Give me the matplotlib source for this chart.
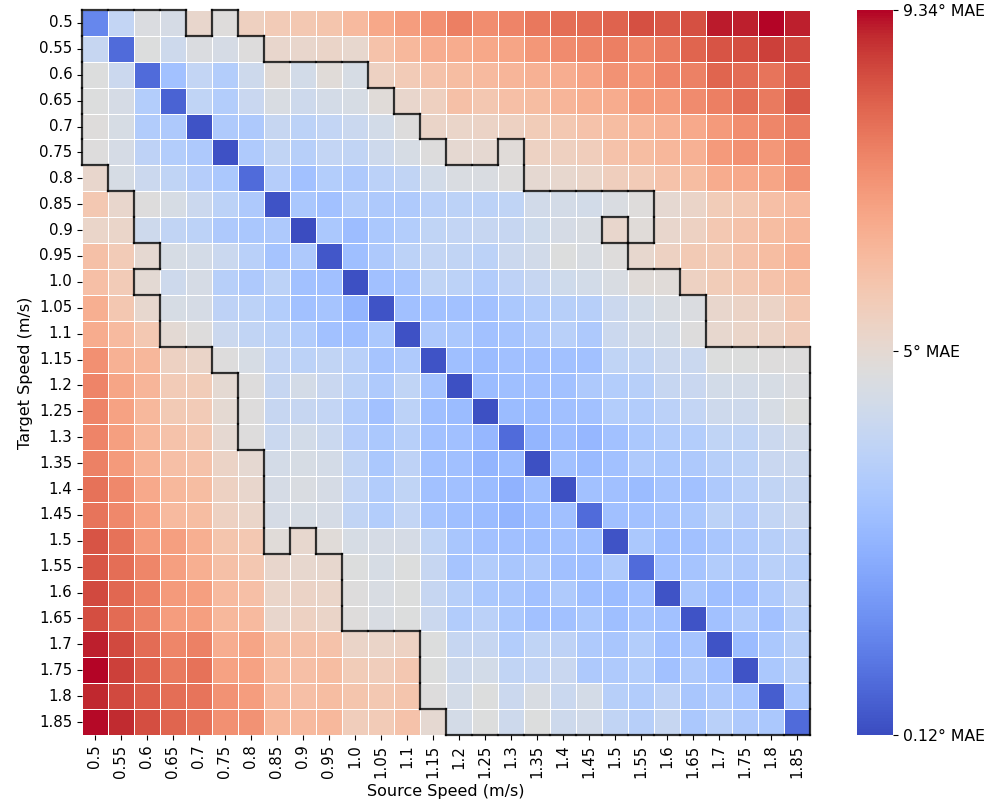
import matplotlib
matplotlib.use("Agg")
import matplotlib.pyplot as plt
import numpy as np
import seaborn as sns
from matplotlib.collections import LineCollection

speeds = [0.5, 0.55, 0.6, 0.65, 0.7, 0.75, 0.8, 0.85, 0.9, 0.95, 1.0, 1.05, 1.1, 1.15,
          1.2, 1.25, 1.3, 1.35, 1.4, 1.45, 1.5, 1.55, 1.6, 1.65, 1.7, 1.75, 1.8, 1.85]
tick_labels = [str(s) for s in speeds]

threshold = 5.0
vmin, vmax = 0.12, 9.34

# rows = target speed, columns = source speed (MAE in degrees)
r00 = [1.4, 3.9, 4.65, 4.45, 5.15, 4.8, 5.45, 5.65, 5.75, 5.85, 6.2, 6.7, 6.95, 7.25, 7.6, 7.3, 7.5, 7.75, 7.9, 8.0, 8.15, 8.45, 8.3, 8.45, 9.15, 9.1, 9.34, 9.1]
r01 = [4.0, 0.8, 4.7, 4.2, 4.65, 4.45, 4.75, 5.15, 5.15, 5.25, 5.1, 5.95, 6.25, 6.55, 6.6, 6.7, 6.75, 7.1, 7.35, 7.45, 7.6, 7.45, 7.65, 8.1, 8.4, 8.5, 8.7, 8.55]
r02 = [4.7, 4.15, 0.8, 3.0, 3.9, 3.45, 4.2, 4.9, 4.35, 4.85, 4.5, 5.4, 5.65, 5.95, 6.1, 6.2, 6.35, 6.45, 6.55, 6.8, 7.2, 7.15, 7.5, 7.55, 8.1, 7.95, 7.8, 8.25]
r03 = [4.7, 4.45, 3.45, 0.6, 3.8, 3.45, 4.05, 4.55, 4.2, 4.4, 4.5, 4.85, 5.15, 5.45, 6.0, 5.8, 6.05, 6.1, 6.35, 6.5, 6.6, 7.0, 7.0, 7.35, 7.6, 7.9, 7.7, 8.3]
r04 = [4.8, 4.5, 3.4, 3.3, 0.3, 3.35, 3.3, 4.0, 3.7, 3.9, 4.1, 4.35, 4.75, 5.25, 5.2, 5.3, 5.4, 5.6, 5.75, 5.95, 6.1, 6.3, 6.45, 6.65, 7.0, 7.3, 7.45, 7.65]
r05 = [4.75, 4.45, 3.75, 3.45, 3.3, 0.25, 3.35, 3.85, 3.55, 3.9, 3.85, 4.2, 4.5, 4.75, 5.05, 5.05, 4.85, 5.35, 5.45, 5.55, 5.95, 6.1, 6.3, 6.45, 7.0, 7.25, 7.1, 7.45]
r06 = [5.15, 4.5, 4.15, 3.8, 3.5, 3.25, 0.8, 3.5, 3.0, 3.45, 3.3, 3.65, 3.85, 4.35, 4.6, 4.6, 4.75, 5.02, 5.1, 5.2, 5.5, 5.65, 5.95, 6.1, 6.6, 6.65, 6.75, 7.2]
r07 = [5.75, 5.15, 4.75, 4.5, 4.15, 3.7, 3.3, 0.3, 3.2, 3.0, 3.4, 3.3, 3.35, 3.6, 3.7, 3.7, 3.8, 4.3, 4.4, 4.35, 4.6, 4.8, 5.05, 5.25, 5.6, 5.75, 6.05, 6.2]
r08 = [5.2, 5.2, 4.2, 3.85, 3.7, 3.3, 3.2, 3.3, 0.12, 3.25, 2.85, 3.25, 3.45, 3.8, 3.9, 4.0, 4.0, 4.25, 4.45, 4.55, 5.15, 4.85, 5.15, 5.4, 5.75, 5.95, 6.1, 6.3]
r09 = [6.0, 5.65, 5.05, 4.5, 4.4, 4.1, 3.6, 3.1, 3.3, 0.35, 2.9, 3.3, 3.7, 3.9, 3.85, 3.7, 4.15, 4.3, 4.7, 4.55, 4.8, 5.1, 5.4, 5.7, 5.7, 5.95, 6.1, 6.4]
r10 = [6.05, 5.65, 4.95, 4.2, 4.45, 3.55, 3.3, 3.7, 3.0, 2.95, 0.2, 2.95, 3.1, 3.8, 3.7, 3.4, 3.75, 4.0, 4.25, 4.35, 4.55, 4.85, 4.85, 5.4, 5.6, 5.75, 5.95, 6.1]
r11 = [6.5, 5.8, 5.1, 4.5, 4.45, 3.75, 3.7, 3.45, 3.0, 3.1, 2.6, 0.3, 2.95, 3.0, 3.0, 3.0, 3.25, 3.4, 3.55, 3.55, 4.15, 4.35, 4.55, 4.65, 5.15, 5.3, 5.3, 5.75]
r12 = [6.6, 6.2, 5.75, 4.95, 4.75, 4.15, 3.85, 3.7, 3.4, 3.0, 2.9, 3.25, 0.25, 3.3, 3.25, 3.0, 3.1, 3.3, 3.6, 3.3, 4.15, 4.3, 4.4, 4.75, 5.1, 5.2, 5.3, 5.55]
r13 = [7.25, 6.45, 6.3, 5.4, 5.25, 4.75, 4.5, 3.9, 3.7, 3.85, 3.6, 3.1, 3.35, 0.3, 2.9, 2.8, 2.95, 2.95, 3.0, 3.0, 3.8, 3.85, 4.15, 4.1, 4.7, 4.7, 4.75, 4.75]
r14 = [7.5, 6.75, 6.35, 5.65, 5.6, 5.0, 4.75, 4.0, 4.4, 4.05, 3.7, 3.35, 3.8, 3.05, 0.2, 2.8, 2.9, 2.95, 3.0, 3.3, 3.45, 3.55, 4.0, 4.05, 4.35, 4.4, 4.5, 4.65]
r15 = [7.5, 6.85, 6.25, 5.7, 5.65, 5.0, 4.75, 4.0, 4.0, 3.9, 3.4, 3.0, 3.7, 2.9, 2.8, 0.2, 2.8, 2.8, 2.95, 3.0, 3.45, 3.4, 3.65, 3.9, 4.2, 4.2, 4.5, 4.7]
r16 = [7.5, 6.9, 6.3, 5.95, 5.8, 5.05, 4.75, 4.1, 4.35, 4.1, 3.5, 3.25, 3.55, 3.0, 2.95, 2.65, 0.8, 2.6, 2.85, 2.65, 3.0, 3.25, 3.4, 3.45, 3.8, 3.8, 4.15, 4.3]
r17 = [7.55, 7.0, 6.4, 6.05, 5.95, 5.3, 5.05, 4.4, 4.5, 4.4, 3.85, 3.25, 3.75, 3.0, 2.95, 2.6, 2.75, 0.2, 3.0, 2.75, 3.0, 3.35, 3.25, 3.3, 3.55, 3.7, 4.05, 4.15]
r18 = [7.85, 7.4, 6.65, 6.25, 6.1, 5.4, 5.15, 4.45, 4.6, 4.45, 3.9, 3.4, 3.8, 3.0, 2.95, 2.8, 2.5, 2.9, 0.2, 3.0, 2.95, 2.8, 3.1, 3.0, 3.3, 3.6, 3.85, 4.0]
r19 = [7.8, 7.4, 6.85, 6.2, 6.1, 5.4, 5.2, 4.45, 4.5, 4.45, 3.85, 3.45, 3.9, 3.1, 2.9, 2.8, 2.6, 2.8, 2.95, 0.8, 2.95, 3.0, 3.1, 3.25, 3.7, 3.5, 3.9, 4.05]
r20 = [8.4, 7.85, 7.0, 6.9, 6.5, 5.85, 5.75, 4.85, 5.1, 4.85, 4.5, 4.45, 4.45, 3.8, 3.15, 3.0, 2.95, 2.9, 3.0, 2.9, 0.3, 3.25, 2.9, 3.0, 3.15, 3.35, 3.55, 3.75]
r21 = [8.35, 7.9, 7.45, 6.9, 6.5, 6.0, 5.8, 5.15, 5.1, 5.1, 4.7, 4.5, 4.7, 4.0, 3.1, 3.4, 3.15, 3.3, 2.95, 2.9, 3.35, 0.8, 2.95, 3.1, 3.4, 3.3, 3.6, 3.55]
r22 = [8.55, 8.05, 7.6, 7.0, 6.9, 6.2, 6.05, 5.2, 5.3, 5.2, 4.75, 4.55, 4.7, 4.0, 3.55, 3.25, 3.15, 3.0, 3.35, 2.9, 2.8, 3.0, 0.3, 3.15, 2.9, 2.95, 3.35, 3.75]
r23 = [8.5, 8.0, 7.55, 6.95, 6.9, 6.25, 6.2, 5.15, 5.4, 5.25, 4.8, 4.55, 4.7, 4.15, 3.4, 3.65, 3.25, 3.0, 3.0, 3.25, 2.9, 3.1, 3.0, 0.3, 3.0, 3.35, 3.0, 3.55]
r24 = [9.1, 8.55, 7.95, 7.45, 7.55, 6.55, 6.75, 6.1, 6.0, 5.95, 5.25, 5.25, 5.35, 4.7, 4.0, 4.0, 3.45, 3.8, 3.75, 3.35, 3.15, 3.45, 3.0, 3.1, 0.3, 2.8, 3.25, 3.55]
r25 = [9.34, 8.7, 8.2, 7.7, 7.85, 6.85, 6.85, 6.15, 6.05, 6.1, 5.6, 5.55, 5.8, 4.7, 4.2, 4.35, 3.85, 3.9, 4.05, 3.3, 3.35, 3.45, 3.0, 3.3, 3.0, 0.3, 3.25, 3.55]
r26 = [9.05, 8.55, 8.25, 7.9, 7.8, 7.2, 6.95, 6.2, 6.05, 6.1, 5.85, 5.75, 5.85, 4.75, 4.4, 4.7, 4.15, 4.55, 4.1, 4.4, 3.55, 3.4, 3.75, 3.15, 3.3, 3.1, 0.5, 3.15]
r27 = [9.3, 9.0, 8.5, 8.1, 7.85, 7.25, 7.2, 6.25, 6.2, 6.25, 5.55, 5.65, 5.95, 5.05, 4.4, 4.7, 4.2, 4.7, 4.2, 4.3, 3.85, 3.55, 4.0, 3.25, 3.6, 3.3, 3.25, 0.8]

data = np.array([r00, r01, r02, r03, r04, r05, r06, r07, r08, r09, r10, r11, r12, r13,
                 r14, r15, r16, r17, r18, r19, r20, r21, r22, r23, r24, r25, r26, r27])

fig = plt.figure(figsize=(9.92, 8.08), dpi=100)
ax = fig.add_axes([82/992, 1 - 735/808, 728/992, 725/808])
cax = fig.add_axes([857/992, 1 - 735/808, 36/992, 725/808])

sns.heatmap(data, ax=ax, cbar_ax=cax, cmap="coolwarm", vmin=vmin, vmax=vmax,
            linewidths=0.5, linecolor="white",
            xticklabels=tick_labels, yticklabels=tick_labels)

ax.set_xlabel("Source Speed (m/s)", fontsize=11.5)
ax.set_ylabel("Target Speed (m/s)", fontsize=11.5)
ax.tick_params(axis="x", labelrotation=90, labelsize=10.8)
ax.tick_params(axis="y", labelrotation=0, labelsize=10.8)

cb = ax.collections[0].colorbar
cb.set_ticks([vmin, threshold, vmax])
cb.set_ticklabels([f"{vmin}° MAE", f"{threshold:g}° MAE", f"{vmax}° MAE"])
cb.ax.tick_params(labelsize=11.3)

# outline of the region below the threshold
mask = data < threshold
n_r, n_c = mask.shape
segs = []
for i in range(n_r):
    for j in range(n_c):
        if not mask[i, j]:
            continue
        if i == 0 or not mask[i - 1, j]:
            segs.append([(j, i), (j + 1, i)])
        if i == n_r - 1 or not mask[i + 1, j]:
            segs.append([(j, i + 1), (j + 1, i + 1)])
        if j == 0 or not mask[i, j - 1]:
            segs.append([(j, i), (j, i + 1)])
        if j == n_c - 1 or not mask[i, j + 1]:
            segs.append([(j + 1, i), (j + 1, i + 1)])
lc = LineCollection(segs, colors="black", linewidths=1.6, alpha=0.8,
                    capstyle="projecting", clip_on=False, zorder=5)
ax.add_collection(lc)

fig.savefig("out.png", dpi=100)
